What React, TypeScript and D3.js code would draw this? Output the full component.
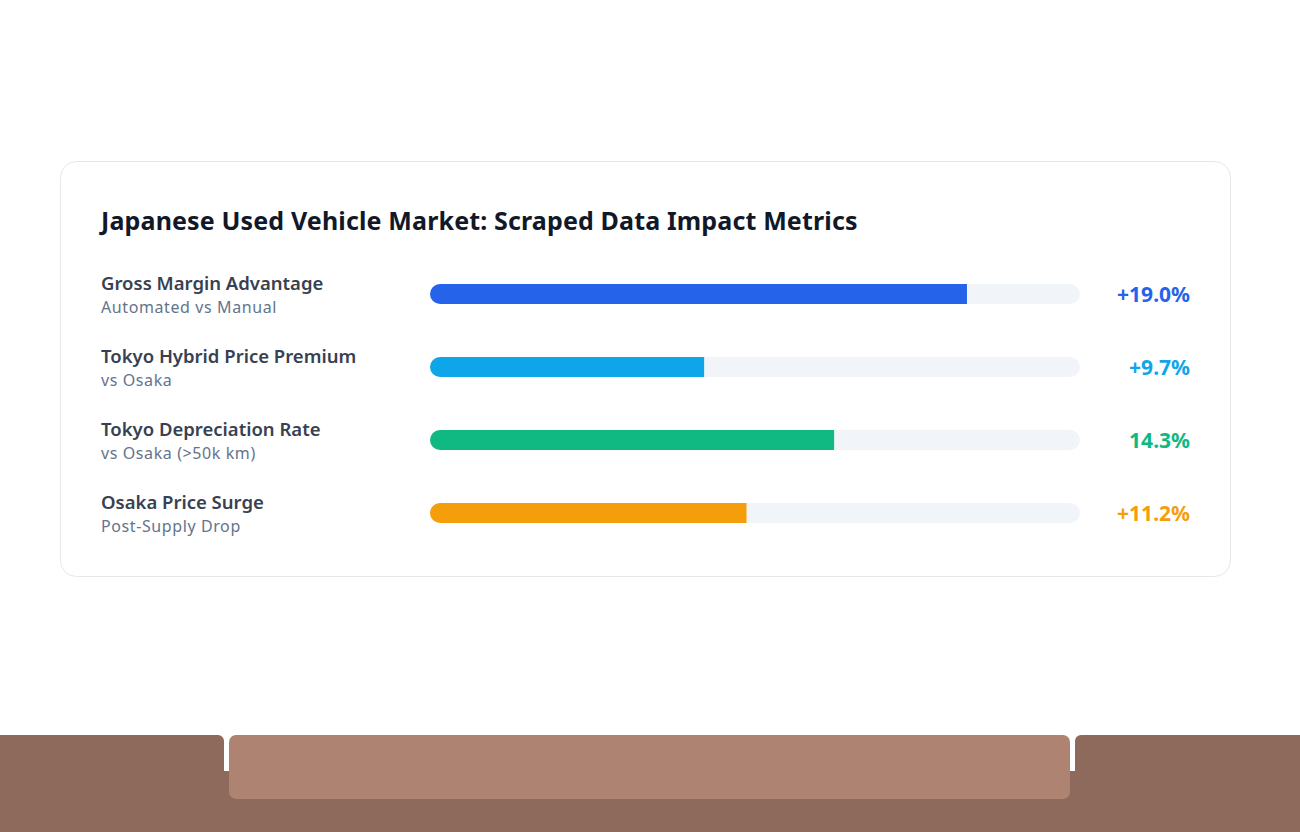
import * as d3 from 'd3';

const labels = ['Gross Margin Advantage', 'Tokyo Hybrid Price Premium', 'Tokyo Depreciation Rate', 'Osaka Price Surge'];
const subLabels = ['Automated vs Manual', 'vs Osaka', 'vs Osaka (>50k km)', 'Post-Supply Drop'];
const values = [19.0, 9.7, 14.3, 11.2];
const valueText = ['+19.0%', '+9.7%', '14.3%', '+11.2%'];
const colors = ['#2563eb', '#0ea5e9', '#10b981', '#f59e0b'];

const title = 'Japanese Used Vehicle Market: Scraped Data Impact Metrics';

const App = () => {
  const width = 1300;
  const height = 832;
  const font = '"Noto Sans", "Open Sans", sans-serif';

  const xScale = d3.scaleLinear().domain([0, 23]).range([0, 650]);
  const yScale = d3.scaleBand()
    .domain(labels)
    .range([257.5, 549.5])
    .paddingInner(0);

  const trackX = 430;
  const barH = 20;

  return (
    <div style={{ position: 'fixed', left: 0, top: 0, width, height, background: '#ffffff' }}>
      <svg width={width} height={height} style={{ display: 'block' }}>
        {/* card */}
        <rect x={60.5} y={161.5} width={1170} height={415} rx={16} fill="#ffffff" stroke="#e5e7eb" />
        <text x={101} y={230} fontFamily={font} fontSize={25} fontWeight={700} letterSpacing={0.15} fill="#111827">{title}</text>

        {labels.map((label, i) => {
          const cy = yScale(label)! + yScale.bandwidth() / 2;
          return (
            <g key={label}>
              <text x={101} y={cy - 4.5} fontFamily={font} fontSize={18.5} fontWeight={600} fill="#374151">{label}</text>
              <text x={101} y={cy + 18.5} fontFamily={font} fontSize={16} letterSpacing={0.6} fill="#64748b">{subLabels[i]}</text>
              <rect x={trackX} y={cy - barH / 2} width={xScale(23)} height={barH} rx={10} fill="#f1f5f9" />
              <path
                d={`M${trackX + 10},${cy - barH / 2} H${trackX + xScale(values[i])} V${cy + barH / 2} H${trackX + 10} A10,10 0 0 1 ${trackX + 10},${cy - barH / 2} Z`}
                fill={colors[i]}
              />
              <text x={1190} y={cy + 8} textAnchor="end" fontFamily={font} fontSize={21} fontWeight={700} fill={colors[i]}>{valueText[i]}</text>
            </g>
          );
        })}

        {/* bottom strip */}
        <rect x={0} y={771} width={width} height={61} fill="#8d6a5c" />
        <rect x={-10} y={735} width={234} height={80} rx={6} fill="#8d6a5c" />
        <rect x={1075} y={735} width={240} height={80} rx={6} fill="#8d6a5c" />
        <rect x={229} y={735} width={841} height={64} rx={7} fill="#af8372" />
      </svg>
    </div>
  );
};

export default App;
